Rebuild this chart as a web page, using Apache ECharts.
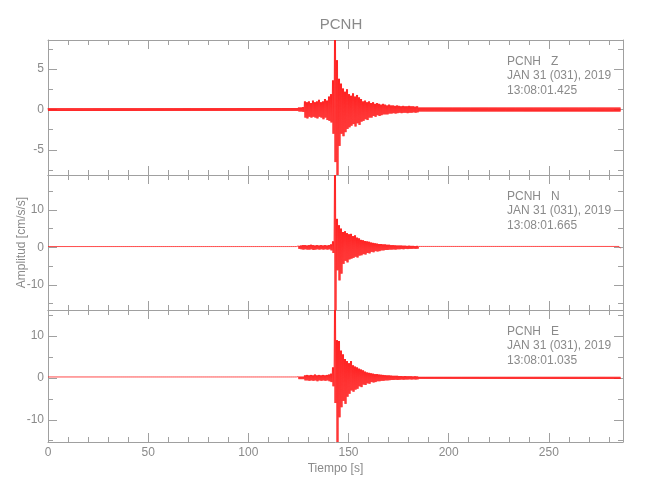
<!DOCTYPE html>
<html>
<head>
<meta charset="utf-8">
<script src="https://cdn.jsdelivr.net/npm/echarts@6/dist/echarts.min.js"></script>
<style>
html, body { margin: 0; padding: 0; background: #fff; }
#chart { width: 650px; height: 500px; }
</style>
</head>
<body>
<div id="chart"></div>
<script>
// tiempo [s]
const tStart = 125
const tEnd = 286
const xMax = 287
const xTicks = [0, 50, 100, 150, 200, 250]
const xMinorTicks = [10, 20, 30, 40, 60, 70, 80, 90, 110, 120, 130, 140, 160, 170, 180, 190,
  210, 220, 230, 240, 260, 270, 280]

// envolvente por segundo, desde tStart
const zUpper = [0.25, 0.25, 0.3, 1.0, 0.9, 1.0, 0.8, 1.1, 0.9, 1.0,
  1.2, 0.9, 1.0, 1.3, 1.1, 1.6, 1.9, 3.6, 8.6, 6.1,
  3.8, 3.2, 2.6, 2.2, 2.5, 1.9, 1.7, 2.0, 1.6, 1.8,
  1.5, 1.3, 1.0, 1.1, 0.9, 1.0, 0.8, 0.9, 0.7, 0.8,
  0.7, 0.6, 0.7, 0.6, 0.5, 0.6, 0.5, 0.5, 0.45, 0.5,
  0.45, 0.4, 0.45, 0.4, 0.4, 0.45, 0.4, 0.4, 0.35, 0.4]
const zLower = [-0.25, -0.25, -0.3, -1.0, -1.1, -0.9, -1.0, -0.9, -1.0, -1.1,
  -0.9, -1.0, -1.2, -1.0, -1.3, -1.4, -1.6, -3.0, -6.5, -8.1,
  -4.5, -3.0, -3.3, -2.8, -2.4, -2.2, -2.0, -1.8, -2.1, -1.7,
  -1.9, -1.5, -1.4, -1.2, -1.3, -1.0, -1.0, -0.8, -0.9, -0.7,
  -0.8, -0.7, -0.6, -0.6, -0.6, -0.5, -0.5, -0.45, -0.5, -0.45,
  -0.4, -0.45, -0.4, -0.4, -0.45, -0.4, -0.4, -0.35, -0.4, -0.35]

const nUpper = [0.4, 0.5, 0.6, 0.6, 0.5, 0.6, 0.7, 0.6, 0.5, 0.6,
  0.5, 0.6, 0.5, 0.6, 0.5, 0.6, 0.8, 1.6, 19.3, 7.6,
  5.9, 5.0, 4.1, 4.3, 3.8, 3.5, 3.6, 3.0, 3.2, 2.6,
  2.4, 2.0, 1.9, 1.7, 1.6, 1.5, 1.3, 1.2, 1.1, 1.0,
  0.9, 0.9, 0.8, 0.8, 0.7, 0.7, 0.6, 0.6, 0.55, 0.5,
  0.5, 0.5, 0.45, 0.45, 0.4, 0.45, 0.4, 0.4, 0.35, 0.4]
const nLower = [-0.4, -0.5, -0.6, -0.5, -0.6, -0.6, -0.5, -0.7, -0.6, -0.5,
  -0.6, -0.5, -0.6, -0.5, -0.6, -0.5, -0.8, -1.5, -16.7, -6.1,
  -8.8, -7.0, -4.4, -3.6, -4.0, -3.2, -3.0, -2.8, -2.5, -2.7,
  -2.2, -2.1, -1.8, -1.9, -1.5, -1.6, -1.2, -1.3, -1.0, -1.1,
  -1.0, -0.8, -0.8, -0.7, -0.7, -0.6, -0.6, -0.55, -0.6, -0.5,
  -0.5, -0.45, -0.5, -0.4, -0.45, -0.4, -0.4, -0.35, -0.4, -0.35]

const eUpper = [0.3, 0.3, 0.3, 0.6, 0.7, 0.6, 0.7, 0.6, 0.8, 0.6,
  0.7, 0.6, 0.7, 0.6, 0.7, 0.8, 1.0, 2.5, 16.2, 9.0,
  8.8, 6.5, 5.6, 4.5, 4.0, 3.5, 4.0, 3.0, 2.7, 2.5,
  2.2, 2.0, 1.8, 1.5, 1.3, 1.2, 1.1, 1.0, 0.9, 0.9,
  0.8, 0.75, 0.7, 0.65, 0.6, 0.6, 0.55, 0.5, 0.5, 0.5,
  0.45, 0.45, 0.4, 0.45, 0.4, 0.4, 0.4, 0.35, 0.4, 0.35]
const eLower = [-0.3, -0.3, -0.3, -0.6, -0.6, -0.7, -0.6, -0.7, -0.6, -0.8,
  -0.6, -0.7, -0.6, -0.7, -0.6, -0.8, -1.0, -2.0, -6.0, -15.3,
  -9.4, -7.0, -5.5, -6.2, -4.5, -3.8, -3.0, -3.3, -2.8, -2.6,
  -2.0, -2.2, -1.6, -1.7, -1.3, -1.4, -1.0, -1.1, -1.0, -0.8,
  -0.8, -0.7, -0.7, -0.6, -0.6, -0.55, -0.5, -0.5, -0.45, -0.5,
  -0.45, -0.4, -0.45, -0.4, -0.4, -0.35, -0.4, -0.35, -0.4, -0.35]

// ruido fuera de la ventana del evento (Z, N, E)
const preNoise = [0.18, 0.22, 0.22]
const postNoise = [0.25, 0.25, 0.25]

const yRange = [[-8.1, 8.6], [-16.7, 19.3], [-15.3, 16.2]]
const yTicks = [[-5, 0, 5], [-10, 0, 10], [-10, 0, 10]]
const yMinorTicks = [[-7.5, -2.5, 2.5, 7.5], [-15, -5, 5, 15], [-15, -5, 5, 15]]

const stationLabels = [
  'PCNH   Z\nJAN 31 (031), 2019\n13:08:01.425',
  'PCNH   N\nJAN 31 (031), 2019\n13:08:01.665',
  'PCNH   E\nJAN 31 (031), 2019\n13:08:01.035'
]

const traces = [[zUpper, zLower], [nUpper, nLower], [eUpper, eLower]]

const FONT = "'Liberation Sans', Arial, sans-serif"
const GRAY = '#8a8a8a'
const AXIS = '#a0a0a0'

// dos oscilaciones por segundo entre la envolvente superior e inferior
function buildTrace (k) {
  const up = traces[k][0]
  const lo = traces[k][1]
  const pts = []
  for (let t = 0; t < tEnd; t++) {
    const i = t - tStart
    let hi, low
    if (i < 0) {
      hi = preNoise[k]; low = -preNoise[k]
    } else if (i >= up.length) {
      hi = postNoise[k]; low = -postNoise[k]
    } else {
      hi = up[i]; low = lo[i]
    }
    pts.push([t, hi], [t + 0.25, low], [t + 0.5, hi], [t + 0.75, low])
  }
  return pts
}

const panelTop = [40, 175, 310]
const panelHeight = [135, 135, 132]

let grids = []
let xAxes = []
let yAxes = []
let series = []
let graphics = []

function tickAxis (base, values, len, showLine) {
  return Object.assign({
    axisLine: { show: showLine, onZero: false, lineStyle: { color: AXIS, width: 1 } },
    axisTick: { show: true, inside: true, length: len, customValues: values, lineStyle: { color: AXIS } },
    splitLine: { show: false },
    axisLabel: { show: false }
  }, base)
}

for (let p = 0; p < 3; p++) {
  for (let g = 0; g < 2; g++) {
    grids.push({ left: 48, right: 27, top: panelTop[p], height: panelHeight[p], outerBoundsMode: 'none' })
  }
  const gMain = 2 * p
  const gMinor = 2 * p + 1
  const xb = { type: 'value', min: 0, max: xMax }
  const yb = { type: 'value', min: yRange[p][0], max: yRange[p][1] }

  let xMain = tickAxis(Object.assign({ gridIndex: gMain, position: 'bottom' }, xb), xTicks, 9, true)
  if (p === 2) {
    xMain.axisLabel = { show: true, customValues: xTicks, color: GRAY, fontFamily: FONT, fontSize: 12, margin: 5 }
    xMain.name = 'Tiempo [s]'
    xMain.nameLocation = 'middle'
    xMain.nameGap = 21
    xMain.nameMoveOverlap = false
    xMain.nameTextStyle = { color: GRAY, fontFamily: FONT, fontSize: 12 }
  }
  xAxes.push(xMain)
  xAxes.push(tickAxis(Object.assign({ gridIndex: gMain, position: 'top' }, xb), xTicks, 9, true))
  xAxes.push(tickAxis(Object.assign({ gridIndex: gMinor, position: 'bottom' }, xb), xMinorTicks, 5, false))
  xAxes.push(tickAxis(Object.assign({ gridIndex: gMinor, position: 'top' }, xb), xMinorTicks, 5, false))

  let yMain = tickAxis(Object.assign({ gridIndex: gMain, position: 'left' }, yb), yTicks[p], 9, true)
  yMain.axisLabel = { show: true, customValues: yTicks[p], color: GRAY, fontFamily: FONT, fontSize: 12, margin: 4 }
  if (p === 1) {
    yMain.name = 'Amplitud [cm/s/s]'
    yMain.nameLocation = 'middle'
    yMain.nameGap = 20
    yMain.nameMoveOverlap = false
    yMain.nameTextStyle = { color: GRAY, fontFamily: FONT, fontSize: 12 }
  }
  yAxes.push(yMain)
  yAxes.push(tickAxis(Object.assign({ gridIndex: gMain, position: 'right' }, yb), yTicks[p], 9, true))
  yAxes.push(tickAxis(Object.assign({ gridIndex: gMinor, position: 'left' }, yb), yMinorTicks[p], 5, false))
  yAxes.push(tickAxis(Object.assign({ gridIndex: gMinor, position: 'right' }, yb), yMinorTicks[p], 5, false))

  series.push({
    type: 'line',
    xAxisIndex: 4 * p,
    yAxisIndex: 4 * p,
    data: buildTrace(p),
    symbol: 'none',
    sampling: null,
    silent: true,
    lineStyle: { color: '#ff1a1a', width: 0.8 }
  })

  graphics.push({
    type: 'text',
    left: 507,
    top: panelTop[p] + 14,
    style: { text: stationLabels[p], font: '12px ' + FONT, fill: GRAY, lineHeight: 14.5 }
  })
}

let chart = echarts.init(document.getElementById('chart'))
chart.setOption({
  animation: false,
  backgroundColor: '#fff',
  title: {
    text: 'PCNH',
    left: 336,
    top: 12,
    textAlign: 'center',
    textStyle: { color: GRAY, fontFamily: FONT, fontSize: 15, fontWeight: 'normal' }
  },
  grid: grids,
  xAxis: xAxes,
  yAxis: yAxes,
  series: series,
  graphic: graphics
})
</script>
</body>
</html>
